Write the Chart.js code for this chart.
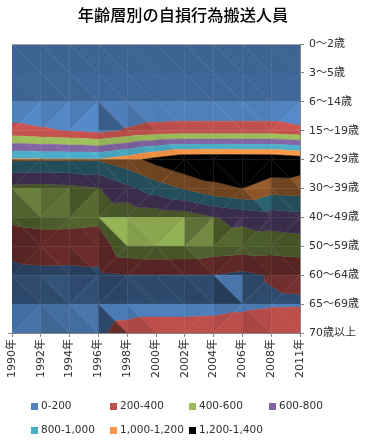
<!DOCTYPE html>
<html><head><meta charset="utf-8">
<style>html,body{margin:0;padding:0;background:#fff}#w{position:relative;width:366px;height:440px}</style>
<script src="https://cdn.jsdelivr.net/npm/chart.js@4/dist/chart.umd.min.js"></script>
</head><body><div id="w"><canvas id="c" width="366" height="440"></canvas></div>
<script>
const years=["1990年","1992年","1994年","1996年","1998年","2000年","2002年","2004年","2006年","2008年","2011年"];
const ages=["0〜2歳","3〜5歳","6〜14歳","15〜19歳","20〜29歳","30〜39歳","40〜49歳","50〜59歳","60〜64歳","65〜69歳","70歳以上"];
const age0=[5,5,5,5,5,5,5,5,5,5,5];
const age1=[10,10,10,10,10,10,10,10,10,10,10];
const age2=[20,22,25,28,28,28,28,28,28,28,18];
const age3=[265,225,190,140,220,270,285,285,285,285,240];
const age4=[1025,1020,1020,1015,1120,1270,1390,1398,1392,1390,1330];
const age5=[530,520,540,590,750,900,1016,1135,1200,1080,1090];
const age6=[450,470,470,450,440,460,480,590,650,700,730];
const age7=[258,300,290,280,540,570,560,510,490,480,500];
const age8=[140,150,150,165,190,190,190,195,150,215,240];
const age9=[70,85,95,90,100,100,100,110,150,175,180];
const age10=[140,130,150,160,281,323,325,327,331,380,385];
const grid=[age0,age1,age2,age3,age4,age5,age6,age7,age8,age9,age10];
const bandLabels=["0-200","200-400","400-600","600-800","800-1,000","1,000-1,200","1,200-1,400"];
const bandColors=["#4f81bd","#c0504d","#9bbb59","#8064a2","#4bacc6","#f79646","#000000"];
const bandStep=200;

function rgb(h){return [1,3,5].map(i=>parseInt(h.substr(i,2),16));}
function clipBand(tri,lo,hi){
  const clip=(poly,t,keepAbove)=>{
    const out=[];
    for(let i=0;i<poly.length;i++){
      const a=poly[i],b=poly[(i+1)%poly.length];
      const ia=keepAbove?a[2]>=t:a[2]<=t, ib=keepAbove?b[2]>=t:b[2]<=t;
      if(ia)out.push(a);
      if(ia!==ib){const k=(t-a[2])/(b[2]-a[2]);out.push([a[0]+k*(b[0]-a[0]),a[1]+k*(b[1]-a[1]),t]);}
    }
    return out;
  };
  let p=clip(tri,lo,true);
  if(p.length)p=clip(p,hi,false);
  return p;
}
function shade(tri,cw,ch){
  const [a,b,c]=tri;
  const ux=(b[0]-a[0])/cw,uy=(b[1]-a[1])/ch,uz=b[2]-a[2];
  const vx=(c[0]-a[0])/cw,vy=(c[1]-a[1])/ch,vz=c[2]-a[2];
  const det=ux*vy-uy*vx;
  const dx=(uz*vy-uy*vz)/det, dy=(ux*vz-uz*vx)/det;
  const nx=-dx*.007, ny=-dy*.008, nz=1, m=Math.hypot(nx,ny,nz);
  return Math.max(.45,.7+.6*(nx*.86+ny*-.5+nz*.1)/m);
}
const surfacePlugin={id:'surface',
  beforeDatasetsDraw(chart){
    const {ctx,scales:{x,y},chartArea:ca}=chart;
    const cw=x.getPixelForValue(1)-x.getPixelForValue(0), ch=y.getPixelForValue(1)-y.getPixelForValue(0);
    const P=(j,i)=>[x.getPixelForValue(j),y.getPixelForValue(i),grid[i][j]];
    ctx.save();
    ctx.beginPath();ctx.rect(ca.left,ca.top,ca.width,ca.height);ctx.clip();
    for(let i=0;i<ages.length-1;i++)for(let j=0;j<years.length-1;j++){
      const TL=P(j,i),TR=P(j+1,i),BL=P(j,i+1),BR=P(j+1,i+1);
      const tris=(TL[2]+BR[2]>=TR[2]+BL[2])?[[TL,TR,BR],[TL,BR,BL]]:[[TL,TR,BL],[TR,BR,BL]];
      for(const t of tris){
        const b=shade(t,cw,ch);
        bandColors.forEach((col,k)=>{
          const p=clipBand(t,k*bandStep,(k+1)*bandStep);
          if(p.length<3)return;
          const c=rgb(col).map(v=>Math.min(255,Math.round(v*b)));
          const css=`rgb(${c[0]},${c[1]},${c[2]})`;
          ctx.fillStyle=css;ctx.strokeStyle=css;ctx.lineWidth=.4;
          ctx.beginPath();p.forEach((q,n)=>n?ctx.lineTo(q[0],q[1]):ctx.moveTo(q[0],q[1]));ctx.closePath();ctx.fill();ctx.stroke();
        });
      }
    }
    ctx.restore();
  },
  afterDraw(chart){
    const {ctx,chartArea:ca}=chart;
    ctx.save();
    ctx.strokeStyle='#a0a8b0';ctx.lineWidth=1;
    ctx.beginPath();ctx.moveTo(ca.left,ca.top+.5);ctx.lineTo(ca.right,ca.top+.5);ctx.stroke();
    ctx.strokeStyle='#868686';
    ctx.beginPath();ctx.moveTo(ca.left-4,ca.bottom+.5);ctx.lineTo(ca.left,ca.bottom+.5);ctx.stroke();
    ctx.font='10.5px "DejaVu Sans","Noto Sans CJK JP"';ctx.textBaseline='middle';ctx.textAlign='left';
    const colX=[31,110,189,269],rowY=[406,430];
    bandLabels.forEach((t,k)=>{
      const cx=colX[k%4],cy=rowY[Math.floor(k/4)];
      ctx.fillStyle=bandColors[k];ctx.fillRect(cx,cy-3,7,7);
      ctx.fillStyle='#303030';ctx.fillText(t,cx+10,cy);
    });
    ctx.restore();
  }
};
new Chart(document.getElementById('c'),{
  type:'line',
  data:{labels:years,datasets:grid.map((row,i)=>({label:ages[i],data:row.map((v,j)=>({x:years[j],y:ages[i],v})),showLine:false,pointRadius:0}))},
  options:{responsive:false,animation:false,
    layout:{padding:0},
    plugins:{legend:{display:false},tooltip:{enabled:false},
      title:{display:true,text:"年齢層別の自損行為搬送人員",color:'#000',font:{family:'"Noto Sans CJK JP"',size:16.2,weight:'500'},padding:{top:5,bottom:19.6}}},
    scales:{
      x:{type:'category',labels:years,offset:false,position:'bottom',
        afterFit(s){s.height=107;},
        grid:{drawOnChartArea:false,tickLength:4,tickColor:'#868686'},border:{color:'#868686'},
        ticks:{autoSkip:false,maxRotation:90,minRotation:90,color:'#303030',padding:2,font:{family:'"DejaVu Sans","Noto Sans CJK JP"',size:11}}},
      y:{type:'category',labels:ages,offset:false,position:'right',
        afterFit(s){s.width=66;},
        grid:{drawOnChartArea:false,tickLength:4,tickColor:'#868686'},border:{color:'#868686'},
        ticks:{autoSkip:false,color:'#303030',padding:5,font:{family:'"DejaVu Sans","Noto Sans CJK JP"',size:11}}},
      spacer:{type:'linear',position:'left',afterFit(s){s.width=12;},
        grid:{display:false},border:{display:false},ticks:{display:false}}
    }
  },
  plugins:[surfacePlugin]
});
</script></body></html>
